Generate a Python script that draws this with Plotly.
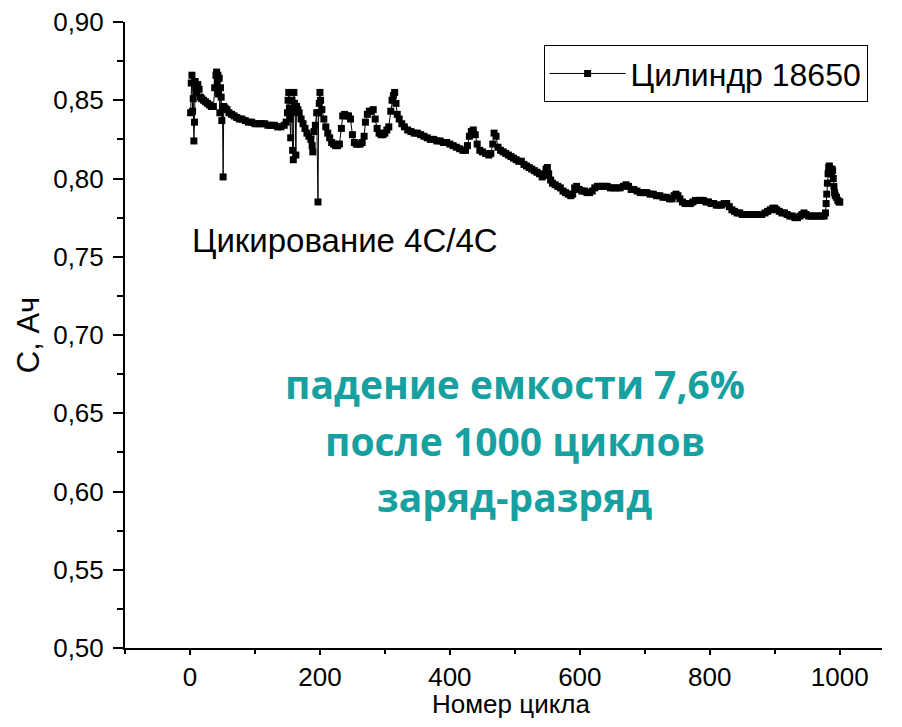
"""Ёмкость цилиндра 18650 при циклировании 4C/4C."""
import plotly.graph_objects as go

# номер цикла и ёмкость, Ач
cycles = [
    1, 2, 3, 4, 5, 6, 7, 8, 9, 10, 12, 14, 16, 18, 21, 24, 27, 30, 33, 36,
    38, 40, 41, 42, 43, 44, 45, 46, 47, 48, 49, 50, 51, 52, 54, 57, 60, 64, 68, 72,
    76, 80, 85, 90, 95, 100, 105, 110, 115, 120, 125, 130, 135, 140, 145, 148,
    150, 151, 152, 153, 154, 155, 156, 157, 158, 159, 160, 161, 162, 163, 164, 166,
    168, 171, 174, 177, 180, 183, 186, 188, 189, 191, 193, 195, 197, 198, 199, 200,
    201, 203, 206, 209, 212, 215, 218, 221, 224, 227, 230, 233, 235, 238, 241, 244,
    247, 250, 253, 256, 259, 262, 265, 268, 270, 273, 276, 279, 282, 285, 288, 291,
    294, 297, 300, 303, 306, 309, 311, 313, 315, 317, 319, 322, 326, 330, 335, 340,
    345, 350, 355, 360, 365, 370, 375, 380, 385, 390, 395, 400, 405, 410, 415, 420,
    424, 427, 430, 433, 436, 439, 442, 446, 450, 455, 460, 463, 466, 468, 471, 474,
    478, 482, 486, 490, 494, 498, 502, 506, 510, 514, 518, 522, 526, 530, 534, 538,
    542, 545, 548, 550, 552, 555, 558, 562, 566, 570, 574, 578, 582, 586, 589, 592,
    595, 599, 603, 607, 611, 615, 619, 623, 627, 632, 637, 642, 647, 652, 657, 662,
    667, 671, 675, 679, 683, 688, 693, 698, 703, 708, 713, 718, 723, 728, 733, 738,
    742, 745, 748, 751, 754, 758, 762, 766, 770, 774, 778, 782, 786, 790, 794, 798,
    802, 806, 810, 814, 818, 822, 826, 830, 834, 838, 842, 846, 850, 855, 860, 865,
    870, 875, 880, 885, 889, 893, 897, 900, 903, 907, 911, 915, 919, 923, 927, 931,
    935, 939, 942, 945, 948, 952, 956, 960, 964, 968, 972, 976, 978, 979, 980, 981,
    982, 983, 984, 985, 986, 987, 988, 989, 990, 991, 992, 993, 995, 997, 999, 1000,
]
capacity = [
    0.842, 0.861, 0.866, 0.843, 0.851, 0.824, 0.836, 0.862, 0.858, 0.855, 0.860, 0.857, 0.852, 0.851, 0.850, 0.849, 0.848, 0.847, 0.846, 0.846,
    0.858, 0.866, 0.868, 0.862, 0.866, 0.854, 0.864, 0.842, 0.858, 0.852, 0.837, 0.845, 0.801, 0.846, 0.845, 0.844, 0.842, 0.841, 0.840, 0.839,
    0.838, 0.838, 0.837, 0.836, 0.836, 0.835, 0.835, 0.835, 0.835, 0.834, 0.834, 0.834, 0.833, 0.833, 0.834, 0.836,
    0.842, 0.850, 0.855, 0.845, 0.838, 0.826, 0.842, 0.850, 0.818, 0.812, 0.855, 0.848, 0.843, 0.815, 0.846, 0.844,
    0.842, 0.838, 0.835, 0.832, 0.829, 0.827, 0.825, 0.821, 0.817, 0.830, 0.834, 0.842, 0.785, 0.842, 0.848, 0.855,
    0.850, 0.844, 0.838, 0.833, 0.829, 0.826, 0.823, 0.822, 0.821, 0.821, 0.822, 0.832, 0.840, 0.841, 0.840, 0.840,
    0.838, 0.828, 0.823, 0.822, 0.822, 0.822, 0.823, 0.827, 0.836, 0.841, 0.843, 0.843, 0.844, 0.838, 0.832, 0.829,
    0.828, 0.828, 0.829, 0.831, 0.833, 0.843, 0.850, 0.853, 0.855, 0.848, 0.841, 0.838, 0.835, 0.833, 0.831, 0.830,
    0.829, 0.829, 0.828, 0.827, 0.826, 0.825, 0.825, 0.824, 0.824, 0.823, 0.823, 0.822, 0.821, 0.820, 0.819, 0.818,
    0.818, 0.821, 0.827, 0.830, 0.831, 0.828, 0.822, 0.818, 0.817, 0.816, 0.815, 0.816, 0.822, 0.829, 0.827, 0.820,
    0.818, 0.817, 0.816, 0.815, 0.814, 0.813, 0.812, 0.811, 0.811, 0.809, 0.808, 0.807, 0.806, 0.805, 0.804, 0.803,
    0.801, 0.802, 0.806, 0.807, 0.803, 0.799, 0.797, 0.796, 0.795, 0.794, 0.792, 0.791, 0.790, 0.789, 0.790, 0.794,
    0.795, 0.793, 0.792, 0.792, 0.791, 0.791, 0.792, 0.794, 0.795, 0.795, 0.795, 0.795, 0.794, 0.794, 0.794, 0.794,
    0.795, 0.796, 0.795, 0.793, 0.793, 0.792, 0.791, 0.791, 0.791, 0.790, 0.790, 0.789, 0.789, 0.788, 0.788, 0.787,
    0.787, 0.789, 0.790, 0.789, 0.787, 0.785, 0.784, 0.784, 0.784, 0.785, 0.786, 0.786, 0.786, 0.786, 0.785, 0.785,
    0.784, 0.784, 0.783, 0.783, 0.783, 0.784, 0.784, 0.782, 0.780, 0.779, 0.778, 0.778, 0.777, 0.777, 0.777, 0.777,
    0.777, 0.777, 0.777, 0.778, 0.779, 0.780, 0.781, 0.781, 0.780, 0.779, 0.778, 0.778, 0.777, 0.776, 0.776, 0.775,
    0.775, 0.776, 0.777, 0.778, 0.777, 0.776, 0.776, 0.776, 0.776, 0.776, 0.776, 0.776, 0.778, 0.784, 0.790, 0.797,
    0.803, 0.807, 0.808, 0.806, 0.805, 0.804, 0.806, 0.805, 0.800, 0.795, 0.791, 0.789, 0.788, 0.786, 0.785, 0.785,
]

x_ticks = [0, 200, 400, 600, 800, 1000]
y_ticks = [0.50, 0.55, 0.60, 0.65, 0.70, 0.75, 0.80, 0.85, 0.90]
y_labels = ["0,50", "0,55", "0,60", "0,65", "0,70", "0,75", "0,80", "0,85", "0,90"]

TEAL = "#17a0a0"
FONT = "Liberation Sans, Arial, sans-serif"

fig = go.Figure()

fig.add_trace(go.Scatter(
    x=cycles, y=capacity,
    mode="lines+markers",
    name="Цилиндр 18650",
    line=dict(color="black", width=1),
    marker=dict(symbol="square", size=7, color="black"),
))

# подписи на поле графика
fig.add_annotation(
    x=0, y=0.7607, xref="x", yref="y",
    text="Цикирование 4C/4C", showarrow=False, xanchor="left",
    font=dict(family=FONT, size=33, color="black"),
)
teal_lines = [("падение емкости 7,6%", 0.6693),
              ("после 1000 циклов", 0.6329),
              ("заряд-разряд", 0.5965)]
for txt, yy in teal_lines:
    fig.add_annotation(
        x=500, y=yy, xref="x", yref="y",
        text=f"<b>{txt}</b>", showarrow=False,
        font=dict(family="Open Sans, sans-serif", size=39, color=TEAL),
    )

# подпись оси X отдельно: заголовок оси не выходит за поле
fig.add_annotation(
    x=0.51, y=-0.0895, xref="paper", yref="paper",
    text="Номер цикла", showarrow=False, yanchor="middle",
    font=dict(family=FONT, size=26, color="black"),
)

fig.update_xaxes(
    range=[-100, 1065],
    tickvals=x_ticks,
    ticks="outside", ticklen=5, tickwidth=2, tickcolor="black",
    minor=dict(ticks="outside", dtick=100, tick0=0, ticklen=4, tickwidth=2, tickcolor="black"),
    showline=True, linecolor="black", linewidth=2,
    showgrid=False, zeroline=False, automargin=False,
    tickfont=dict(family=FONT, size=26, color="black"),
)
fig.update_yaxes(
    range=[0.5, 0.9],
    tickvals=y_ticks, ticktext=y_labels,
    ticks="outside", ticklen=10, tickwidth=2, tickcolor="black",
    minor=dict(ticks="outside", dtick=0.025, tick0=0.5, ticklen=6, tickwidth=2, tickcolor="black"),
    showline=True, linecolor="black", linewidth=2,
    showgrid=False, zeroline=False, automargin=False,
    ticklabeloverflow="allow", ticklabelstandoff=4,
    tickfont=dict(family=FONT, size=26, color="black"),
    title=dict(text="С, Ач", font=dict(family=FONT, size=31, color="black"), standoff=4),
)

# страница добавляет отступ 8 px, поэтому поля уменьшены
fig.update_layout(
    width=886, height=711,
    plot_bgcolor="white", paper_bgcolor="white",
    margin=dict(l=117, r=12, t=14, b=71),
    showlegend=True,
    legend=dict(
        x=0.981, y=0.963, xanchor="right", yanchor="top",
        bordercolor="black", borderwidth=1, bgcolor="white",
        itemwidth=76,
        font=dict(family=FONT, size=32, color="black"),
    ),
)

fig.write_html("out.html")
